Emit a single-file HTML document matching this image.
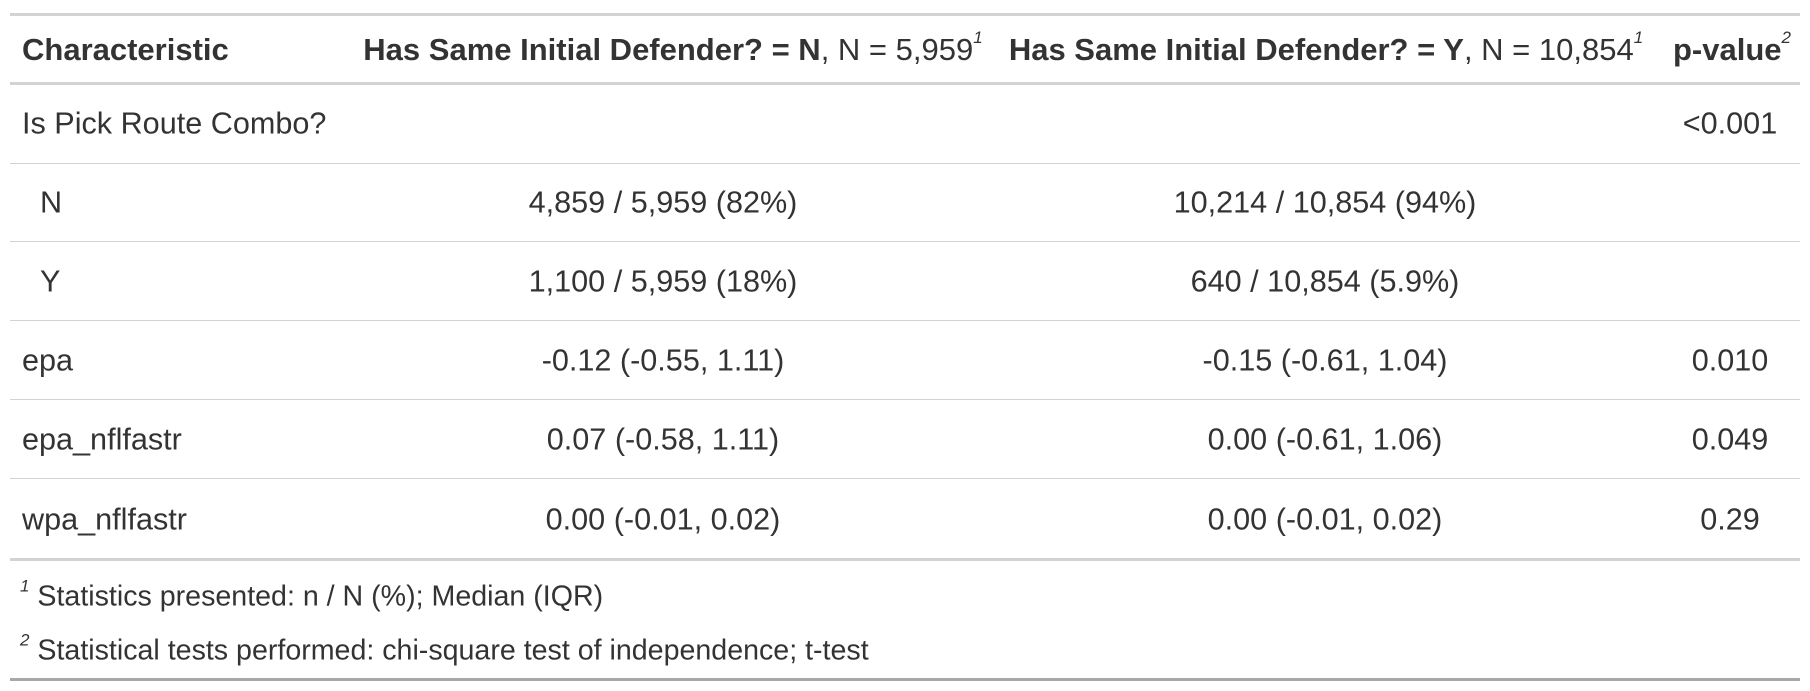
<!DOCTYPE html>
<html><head><meta charset="utf-8">
<style>
body{margin:0;background:#fff;width:1810px;height:691px;overflow:hidden;position:relative;font-family:"Liberation Sans","DejaVu Sans",sans-serif;color:#333;}
.l{position:absolute;left:10px;width:1790px;background:#d3d3d3;}
.t{position:absolute;font-size:30.6px;white-space:nowrap;transform:translateY(-50%);}
.c{transform:translate(-50%,-50%);}
.h{font-size:31px;}
.b{font-weight:bold;}
sup{font-size:17px;font-style:italic;font-weight:normal;vertical-align:top;position:relative;top:-4px;}
</style></head>
<body>
<div class="l" style="top:13px;height:3px"></div>
<div class="l" style="top:82px;height:3px"></div>
<div class="l" style="top:163px;height:1px"></div>
<div class="l" style="top:241px;height:1px"></div>
<div class="l" style="top:320px;height:1px"></div>
<div class="l" style="top:399px;height:1px"></div>
<div class="l" style="top:478px;height:1px"></div>
<div class="l" style="top:558px;height:3px"></div>
<div class="l" style="top:678px;height:3px;background:#a8a8a8"></div>

<div class="t b h" style="left:22px;top:50px">Characteristic</div>
<div class="t c h" style="left:673px;top:50px"><span class="b">Has Same Initial Defender? = N</span>, N = 5,959<sup>1</sup></div>
<div class="t c h" style="left:1326px;top:50px"><span class="b">Has Same Initial Defender? = Y</span>, N = 10,854<sup>1</sup></div>
<div class="t c h" style="left:1732px;top:50px"><span class="b">p-value</span><sup>2</sup></div>

<div class="t" style="left:22px;top:124px">Is Pick Route Combo?</div>
<div class="t c" style="left:1730px;top:124px">&lt;0.001</div>

<div class="t" style="left:40px;top:203px">N</div>
<div class="t c" style="left:663px;top:203px">4,859 / 5,959 (82%)</div>
<div class="t c" style="left:1325px;top:203px">10,214 / 10,854 (94%)</div>

<div class="t" style="left:40px;top:282px">Y</div>
<div class="t c" style="left:663px;top:282px">1,100 / 5,959 (18%)</div>
<div class="t c" style="left:1325px;top:282px">640 / 10,854 (5.9%)</div>

<div class="t" style="left:22px;top:361px">epa</div>
<div class="t c" style="left:663px;top:361px">-0.12 (-0.55, 1.11)</div>
<div class="t c" style="left:1325px;top:361px">-0.15 (-0.61, 1.04)</div>
<div class="t c" style="left:1730px;top:361px">0.010</div>

<div class="t" style="left:22px;top:440px">epa_nflfastr</div>
<div class="t c" style="left:663px;top:440px">0.07 (-0.58, 1.11)</div>
<div class="t c" style="left:1325px;top:440px">0.00 (-0.61, 1.06)</div>
<div class="t c" style="left:1730px;top:440px">0.049</div>

<div class="t" style="left:22px;top:520px">wpa_nflfastr</div>
<div class="t c" style="left:663px;top:520px">0.00 (-0.01, 0.02)</div>
<div class="t c" style="left:1325px;top:520px">0.00 (-0.01, 0.02)</div>
<div class="t c" style="left:1730px;top:520px">0.29</div>

<div class="t" style="left:20px;top:597px;font-size:28.6px"><sup>1</sup> Statistics presented: n / N (%); Median (IQR)</div>
<div class="t" style="left:20px;top:651px;font-size:28.6px"><sup>2</sup> Statistical tests performed: chi-square test of independence; t-test</div>
</body></html>
